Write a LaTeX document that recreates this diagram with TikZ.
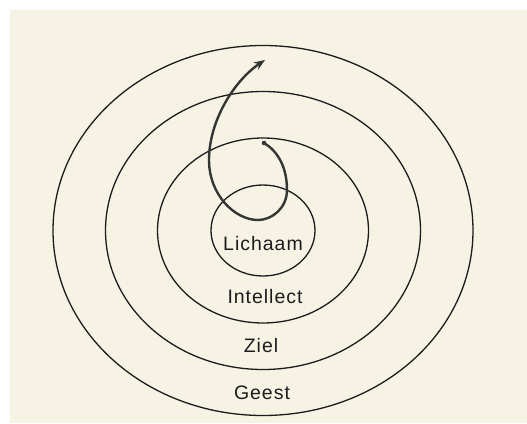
\documentclass[tikz,border=0pt]{standalone}
\usepackage{fontspec}
\newfontfamily\ringfont[LetterSpace=5]{Liberation Sans}
\usetikzlibrary{arrows.meta, shapes.geometric}
\definecolor{paper}{RGB}{246, 242, 228}
\definecolor{ink}{RGB}{28, 28, 28}
\definecolor{pencil}{RGB}{52, 54, 54}

\begin{document}
\begin{tikzpicture}[
    x=1pt, y=-1pt,
    ring/.style={ellipse, draw=ink, line width=1.3pt, inner sep=0pt, outer sep=0pt},
    label/.style={anchor=base, text=ink, font=\ringfont\fontsize{19.5}{22}\selectfont},
    path/.style={-{Stealth[length=11pt, width=8.5pt]}, draw=pencil, line width=2.4pt, line cap=round}
]
    \useasboundingbox (0,0) rectangle (527,423);
    \fill[white] (0,0) rectangle (527,423);
    \fill[paper] (10,10) rectangle (527,423);

    \coordinate (mid) at (263,230.5);
    \node[ring, minimum width=420pt, minimum height=370pt] (geest) at (mid) {};
    \node[ring, minimum width=315pt, minimum height=278pt] (ziel) at (mid) {};
    \node[ring, minimum width=211pt, minimum height=185pt] (intellect) at (mid) {};
    \node[ring, minimum width=104pt, minimum height=91pt] (lichaam) at (mid) {};

    \node[label] (lichaamtext) at (263,250) {Lichaam};
    \node[label] (intellecttext) at (265,303) {Intellect};
    \node[label] (zieltext) at (261,352) {Ziel};
    \node[label] (geesttext) at (262,399) {Geest};

    \coordinate (start) at (264,143);
    \coordinate (right) at (287,190);
    \coordinate (bottom) at (258,220);
    \coordinate (left) at (209,160);
    \coordinate (tip) at (265,60);

    \fill[pencil] (start) circle (2.3pt);
    \draw[path] (start) .. controls (276,150) and (287,165) .. (right)
        .. controls (287,208) and (272,220) .. (bottom)
        .. controls (235,220) and (209,195) .. (left)
        .. controls (209,120) and (235,80) .. (tip);
\end{tikzpicture}
\end{document}
